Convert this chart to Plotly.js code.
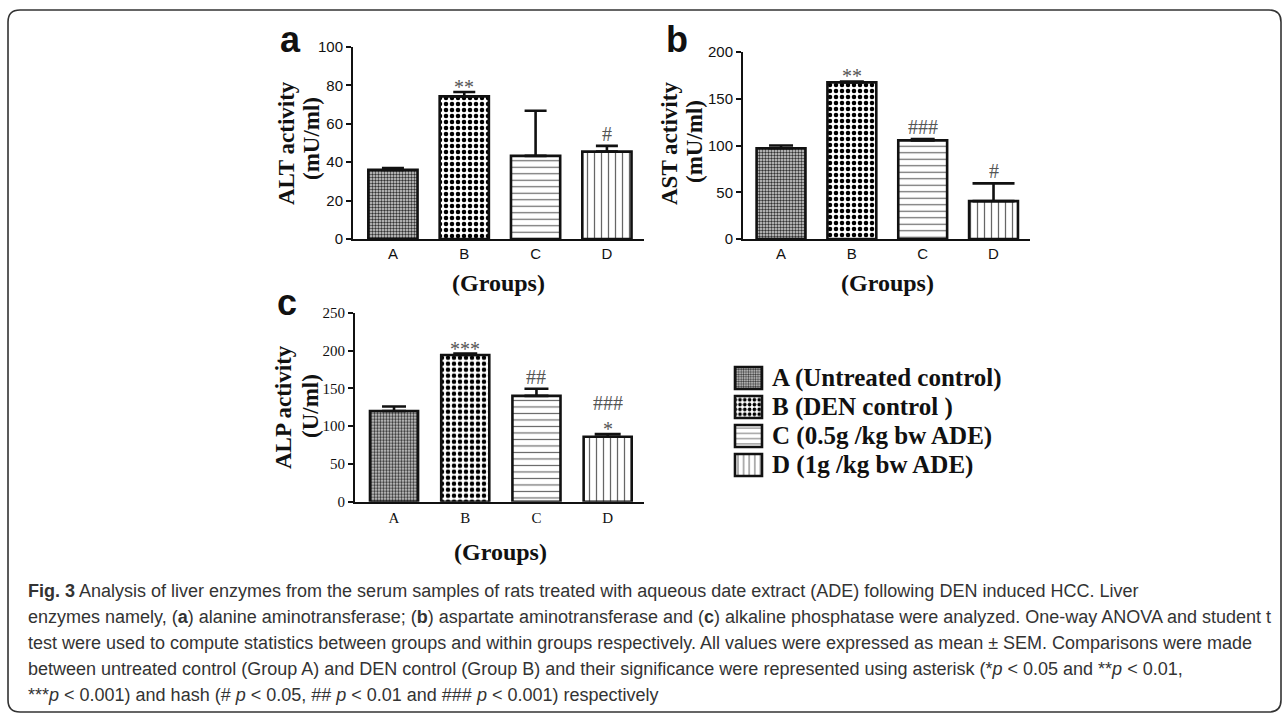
<!DOCTYPE html>
<html><head><meta charset="utf-8">
<script src="https://cdn.plot.ly/plotly-3.0.1.min.js"></script>
<style>
html,body{margin:0;padding:0;background:#fff;}
#chart{width:1287px;height:714px;}
.legend .legendpoints path{d:path("M10,11H-17V-11H10Z");}
</style></head><body><div id="chart"></div>
<script>
// ---------- data ----------
const groups = ['A', 'B', 'C', 'D'];
const groupNames = ['A (Untreated control)', 'B (DEN control )', 'C (0.5g /kg bw ADE)', 'D (1g /kg bw ADE)'];
const altMean = [36, 74.3, 43.3, 45.5];
const altSem  = [1, 2.3, 23.5, 3];
const astMean = [97, 167.5, 105.5, 40.5];
const astSem  = [3, 1, 1.5, 19];
const alpMean = [120, 194, 140, 86];
const alpSem  = [6, 2, 9.5, 3.5];
const altSig = ['', '**', '', '#'];
const astSig = ['', '**', '###', '#'];
const alpSig = ['', '***', '##', '###<br>*'];
const altTicks = [0, 20, 40, 60, 80, 100];
const astTicks = [0, 50, 100, 150, 200];
const alpTicks = [0, 50, 100, 150, 200, 250];
const panelLetters = ['a', 'b', 'c'];
const yTitles = [['ALT activity', '(mU/ml)'], ['AST activity', '(mU/ml)'], ['ALP activity', '(U/ml)']];
const xTitle = '(Groups)';
const captionLines = [
  '<b>Fig. 3</b> Analysis of liver enzymes from the serum samples of rats treated with aqueous date extract (ADE) following DEN induced HCC. Liver',
  'enzymes namely, (<b>a</b>) alanine aminotransferase; (<b>b</b>) aspartate aminotransferase and (<b>c</b>) alkaline phosphatase were analyzed. One-way ANOVA and student t',
  'test were used to compute statistics between groups and within groups respectively. All values were expressed as mean \u00b1 SEM. Comparisons were made',
  'between untreated control (Group A) and DEN control (Group B) and their significance were represented using asterisk (*<i>p</i> &lt; 0.05 and **<i>p</i> &lt; 0.01,',
  '***<i>p</i> &lt; 0.001) and hash (# <i>p</i> &lt; 0.05, ## <i>p</i> &lt; 0.01 and ### <i>p</i> &lt; 0.001) respectively'
];

// ---------- styles ----------
const W = 1287, H = 714;
const px = v => v / W;
const py = v => 1 - v / H;
const SERIF = 'Liberation Serif, Times New Roman, serif';
const SANS = 'Liberation Sans, Arial, sans-serif';
const patterns = [
  {shape: '.', size: 3, solidity: 0.5, fgcolor: '#333', bgcolor: '#d8d8d8', fillmode: 'replace'},
  {shape: '.', size: 6, solidity: 0.45, fgcolor: '#000', bgcolor: '#fff', fillmode: 'replace'},
  {shape: '-', size: 6.5, solidity: 0.18, fgcolor: '#666', bgcolor: '#fff', fillmode: 'replace'},
  {shape: '|', size: 7, solidity: 0.18, fgcolor: '#666', bgcolor: '#fff', fillmode: 'replace'}
];

const panels = [
  {mean: altMean, sem: altSem, sig: altSig, ticks: altTicks, xa: 'x', ya: 'y',
   xd: [353, 644], yd: [239, 47], xr: [-0.56, 3.52], yr: [0, 100], bw: 0.69, capw: [11, 11, 11, 11],
   tickFont: SANS, letter: [290, 39.5], yt: [[287, 143], [312, 139]], xt: [498, 283], stand: 0},
  {mean: astMean, sem: astSem, sig: astSig, ticks: astTicks, xa: 'x2', ya: 'y2',
   xd: [743, 1030], yd: [239, 52], xr: [-0.537, 3.515], yr: [0, 200], bw: 0.69, capw: [12, 12, 12, 21],
   tickFont: SANS, letter: [677, 39], yt: [[670, 144], [695, 142]], xt: [887, 283], stand: 0},
  {mean: alpMean, sem: alpSem, sig: alpSig, ticks: alpTicks, xa: 'x3', ya: 'y3',
   xd: [355, 644], yd: [501.7, 312.7], xr: [-0.548, 3.51], yr: [0, 250], bw: 0.675, capw: [12, 12, 12, 13],
   tickFont: SERIF, letter: [287, 302.5], yt: [[283, 407], [310, 406]], xt: [500, 552], stand: 1}
];

const traces = [];
const annotations = [];
const layout = {
  width: W, height: H, autosize: false,
  margin: {l: 0, r: 0, t: 0, b: 0, pad: 0},
  paper_bgcolor: '#fff', plot_bgcolor: 'rgba(0,0,0,0)',
  barmode: 'overlay',
  showlegend: true,
  legend: {x: px(732), xanchor: 'left', y: py(358.5), yanchor: 'top',
           font: {family: SERIF, size: 20, color: '#111', weight: 'bold'},
           itemwidth: 30, tracegroupgap: 0, bgcolor: 'rgba(0,0,0,0)', itemclick: false, itemdoubleclick: false},
  annotations: annotations,
  shapes: []
};

panels.forEach((p, pi) => {
  const sfx = pi === 0 ? '' : String(pi + 1);
  groups.forEach((g, gi) => {
    traces.push({
      type: 'bar', x: [g], y: [p.mean[gi]], xaxis: p.xa, yaxis: p.ya,
      name: '<span style="font-size:25px">' + groupNames[gi] + '</span>',
      legendgroup: groups[gi], showlegend: pi === 0,
      width: p.bw,
      marker: {color: '#fff', pattern: patterns[gi], line: {color: '#111', width: 2.6}},
      error_y: {type: 'data', array: [p.sem[gi]], arrayminus: [0], symmetric: false,
                color: '#111', thickness: 2.6, width: p.capw[gi]},
      hoverinfo: 'skip'
    });
    if (p.sig[gi]) {
      annotations.push({
        xref: p.xa, yref: p.ya, x: g, y: p.mean[gi] + p.sem[gi], text: p.sig[gi],
        showarrow: false, yanchor: 'bottom', xanchor: 'center',
        yshift: p.sig[gi].endsWith('*') ? -8 : -1,
        font: {family: SERIF, size: 20, color: '#555'}
      });
    }
  });
  layout['xaxis' + sfx] = {
    domain: [px(p.xd[0]), px(p.xd[1])], range: p.xr, type: 'category',
    anchor: p.ya, showline: true, linecolor: '#111', linewidth: 2,
    ticks: '', showgrid: false, zeroline: false, fixedrange: true,
    ticklabelstandoff: p.stand,
    tickfont: {family: p.tickFont, size: 15, color: '#111'}
  };
  layout['yaxis' + sfx] = {
    domain: [py(p.yd[0]), py(p.yd[1])], range: p.yr,
    anchor: p.xa, showline: true, linecolor: '#111', linewidth: 2,
    ticks: 'outside', ticklen: 5, tickwidth: 2, tickcolor: '#111',
    tickvals: p.ticks, showgrid: false, zeroline: false, fixedrange: true,
    tickfont: {family: p.tickFont, size: 15, color: '#111'}
  };
  annotations.push({xref: 'paper', yref: 'paper', x: px(p.letter[0]), y: py(p.letter[1]),
    text: '<b>' + panelLetters[pi] + '</b>', showarrow: false, xanchor: 'center', yanchor: 'middle',
    font: {family: SANS, size: 36, color: '#111'}});
  yTitles[pi].forEach((t, ti) => {
    annotations.push({xref: 'paper', yref: 'paper', x: px(p.yt[ti][0]), y: py(p.yt[ti][1]),
      text: '<b>' + t + '</b>', textangle: -90, showarrow: false, xanchor: 'center', yanchor: 'middle',
      font: {family: SERIF, size: 23, color: '#111'}});
  });
  annotations.push({xref: 'paper', yref: 'paper', x: px(p.xt[0]), y: py(p.xt[1]),
    text: '<b>' + xTitle + '</b>', showarrow: false, xanchor: 'center', yanchor: 'middle',
    font: {family: SERIF, size: 24, color: '#111'}});
});

// caption
const capY = [591, 617, 643, 669, 695];
captionLines.forEach((t, i) => {
  annotations.push({xref: 'paper', yref: 'paper', x: px(26), y: py(capY[i]), text: t,
    showarrow: false, xanchor: 'left', yanchor: 'middle', align: 'left',
    font: {family: SANS, size: 18, color: '#333'}});
});

// rounded frame
(function () {
  const x0 = 8, x1 = 1281, y0 = 10, y1 = 712, r = 12;
  const P = (x, y) => px(x).toFixed(5) + ',' + py(y).toFixed(5);
  const d = 'M' + P(x0 + r, y0) + ' L' + P(x1 - r, y0) + ' Q' + P(x1, y0) + ' ' + P(x1, y0 + r) +
    ' L' + P(x1, y1 - r) + ' Q' + P(x1, y1) + ' ' + P(x1 - r, y1) +
    ' L' + P(x0 + r, y1) + ' Q' + P(x0, y1) + ' ' + P(x0, y1 - r) +
    ' L' + P(x0, y0 + r) + ' Q' + P(x0, y0) + ' ' + P(x0 + r, y0) + ' Z';
  layout.shapes.push({type: 'path', xref: 'paper', yref: 'paper', path: d,
    line: {color: '#333', width: 1.6}, fillcolor: 'rgba(0,0,0,0)', layer: 'below'});
})();

Plotly.newPlot('chart', traces, layout, {staticPlot: true, displayModeBar: false});
</script></body></html>
